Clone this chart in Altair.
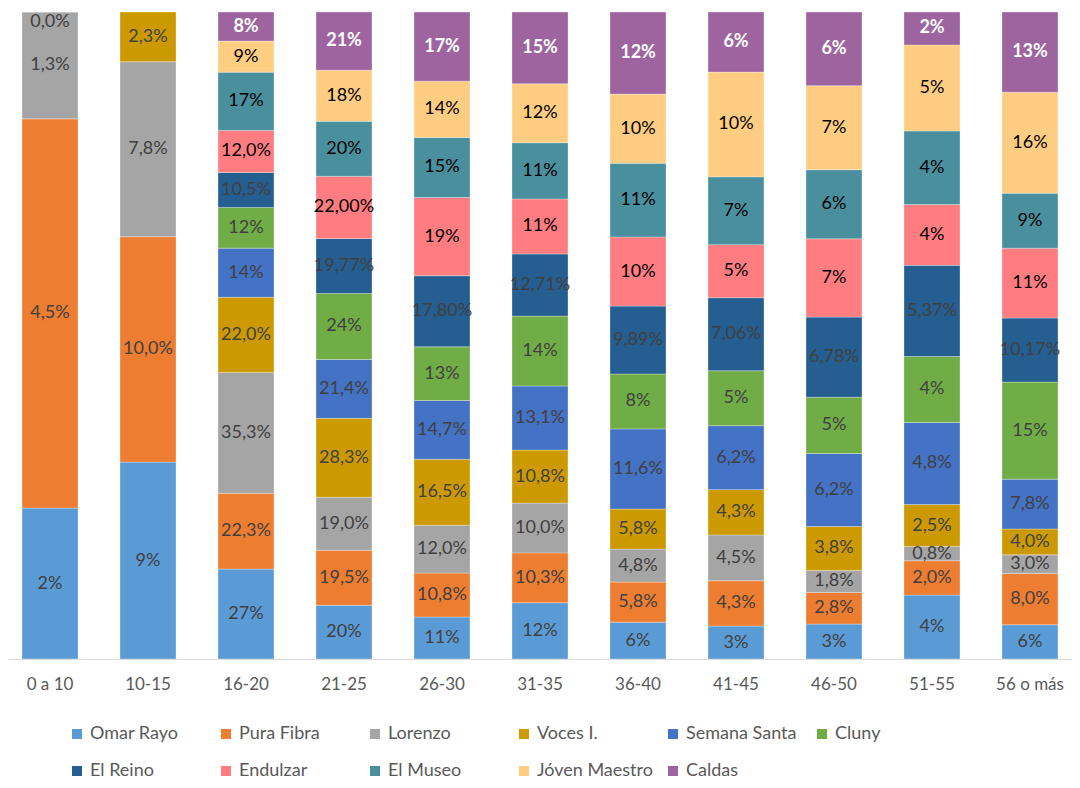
import altair as alt
import pandas as pd

categories = ["0 a 10", "10-15", "16-20", "21-25", "26-30", "31-35",
              "36-40", "41-45", "46-50", "51-55", "56 o más"]

series = ["Omar Rayo", "Pura Fibra", "Lorenzo", "Voces I.", "Semana Santa", "Cluny",
          "El Reino", "Endulzar", "El Museo", "Jóven Maestro", "Caldas"]

colors = ["#5B9BD5", "#ED7D31", "#A5A5A5", "#CC9A00", "#4472C4", "#70AD47",
          "#255E91", "#FF7C80", "#4A8F9E", "#FFCD82", "#9E64A0"]

label_colors = ["#404040", "#404040", "#404040", "#404040", "#404040", "#404040",
                "#404040", "#000000", "#000000", "#000000", "#FFFFFF"]

# Segment heights (share of each bar)
omar_rayo = [23.3, 30.4, 13.9, 8.3, 6.5, 8.7, 5.7, 5.1, 5.4, 9.9, 5.3]
pura_fibra = [60.1, 34.8, 11.7, 8.5, 6.8, 7.7, 6.2, 7.0, 4.9, 5.3, 7.9]
lorenzo = [16.5, 27.0, 18.7, 8.2, 7.4, 7.7, 5.1, 7.1, 3.4, 2.2, 2.9]
voces = [0.0, 7.7, 11.6, 12.2, 10.2, 8.2, 6.2, 7.0, 6.8, 6.5, 4.0]
semana_santa = [None, None, 7.6, 9.1, 9.1, 9.9, 12.4, 9.9, 11.3, 12.7, 7.7]
cluny = [None, None, 6.3, 10.2, 8.3, 10.8, 8.5, 8.5, 8.7, 10.2, 15.0]
el_reino = [None, None, 5.4, 8.5, 11.0, 9.6, 10.5, 11.3, 12.4, 14.1, 9.9]
endulzar = [None, None, 6.5, 9.6, 12.1, 8.5, 10.7, 8.2, 12.1, 9.4, 10.8]
el_museo = [None, None, 9.0, 8.5, 9.3, 8.7, 11.4, 10.5, 10.7, 11.4, 8.5]
joven_maestro = [None, None, 4.8, 7.9, 8.7, 9.1, 10.7, 16.2, 13.0, 13.3, 15.6]
caldas = [None, None, 4.5, 9.0, 10.7, 11.1, 12.7, 9.3, 11.4, 5.1, 12.4]

# Data labels as printed on the chart
omar_rayo_l = ["2%", "9%", "27%", "20%", "11%", "12%", "6%", "3%", "3%", "4%", "6%"]
pura_fibra_l = ["4,5%", "10,0%", "22,3%", "19,5%", "10,8%", "10,3%", "5,8%", "4,3%", "2,8%", "2,0%", "8,0%"]
lorenzo_l = ["1,3%", "7,8%", "35,3%", "19,0%", "12,0%", "10,0%", "4,8%", "4,5%", "1,8%", "0,8%", "3,0%"]
voces_l = ["0,0%", "2,3%", "22,0%", "28,3%", "16,5%", "10,8%", "5,8%", "4,3%", "3,8%", "2,5%", "4,0%"]
semana_santa_l = [None, None, "14%", "21,4%", "14,7%", "13,1%", "11,6%", "6,2%", "6,2%", "4,8%", "7,8%"]
cluny_l = [None, None, "12%", "24%", "13%", "14%", "8%", "5%", "5%", "4%", "15%"]
el_reino_l = [None, None, "10,5%", "19,77%", "17,80%", "12,71%", "9,89%", "7,06%", "6,78%", "5,37%", "10,17%"]
endulzar_l = [None, None, "12,0%", "22,00%", "19%", "11%", "10%", "5%", "7%", "4%", "11%"]
el_museo_l = [None, None, "17%", "20%", "15%", "11%", "11%", "7%", "6%", "4%", "9%"]
joven_maestro_l = [None, None, "9%", "18%", "14%", "12%", "10%", "10%", "7%", "5%", "16%"]
caldas_l = [None, None, "8%", "21%", "17%", "15%", "12%", "6%", "6%", "2%", "13%"]

values = [omar_rayo, pura_fibra, lorenzo, voces, semana_santa, cluny,
          el_reino, endulzar, el_museo, joven_maestro, caldas]
labels = [omar_rayo_l, pura_fibra_l, lorenzo_l, voces_l, semana_santa_l, cluny_l,
          el_reino_l, endulzar_l, el_museo_l, joven_maestro_l, caldas_l]

rows = []
for si, s in enumerate(series):
    for ci, c in enumerate(categories):
        v = values[si][ci]
        if v is None:
            continue
        rows.append({"cat": c, "series": s, "value": v, "label": labels[si][ci],
                     "order": si, "tcolor": label_colors[si]})
df = pd.DataFrame(rows)

FONT = "Lato"

base = alt.Chart(df).transform_stack(
    stack="value", groupby=["cat"], as_=["y0", "y1"], offset="normalize",
    sort=[alt.SortField("order", order="ascending")]
).transform_calculate(mid="min((datum.y0 + datum.y1) / 2, 0.985)")

xenc = alt.X("cat:N", sort=categories,
             scale=alt.Scale(paddingInner=0.4286, paddingOuter=0.143),
             axis=alt.Axis(title=None, labelAngle=0, labelFontSize=17, labelFont=FONT,
                           labelColor="#595959", domainColor="#D9D9D9", domainWidth=1,
                           ticks=False, labelPadding=17, grid=False))

bars = base.mark_bar(stroke="white", strokeWidth=0.6, strokeOpacity=0.5).encode(
    x=xenc,
    y=alt.Y("y0:Q", scale=alt.Scale(domain=[0, 1]), axis=None),
    y2="y1:Q",
    color=alt.Color("series:N", sort=series,
                    scale=alt.Scale(domain=series, range=colors),
                    legend=alt.Legend(title=None, orient="none", legendX=60, legendY=713,
                                      columns=6, direction="horizontal", symbolType="square",
                                      symbolSize=100, symbolStrokeWidth=0, labelFontSize=18,
                                      labelFont=FONT, labelColor="#595959", rowPadding=19,
                                      columnPadding=11, gridAlign="all", labelOffset=4)),
    order=alt.Order("order:Q"),
)

text_main = base.transform_filter("datum.series != 'Caldas'").mark_text(
    fontSize=18, font=FONT, baseline="middle", align="center"
).encode(
    x=alt.X("cat:N", sort=categories),
    y=alt.Y("mid:Q"),
    text="label:N",
    color=alt.Color("tcolor:N", scale=None),
)

text_caldas = base.transform_filter("datum.series == 'Caldas'").mark_text(
    fontSize=18, font=FONT, fontWeight="bold", baseline="middle", align="center", color="white"
).encode(
    x=alt.X("cat:N", sort=categories),
    y=alt.Y("mid:Q"),
    text="label:N",
)

chart = alt.layer(bars, text_main, text_caldas).properties(
    width=1064, height=647,
    padding={"left": 0, "top": 3, "right": 0, "bottom": 0},
).configure_view(stroke=None)

chart.save("out.html", embed_options={"renderer": "svg", "actions": False})
